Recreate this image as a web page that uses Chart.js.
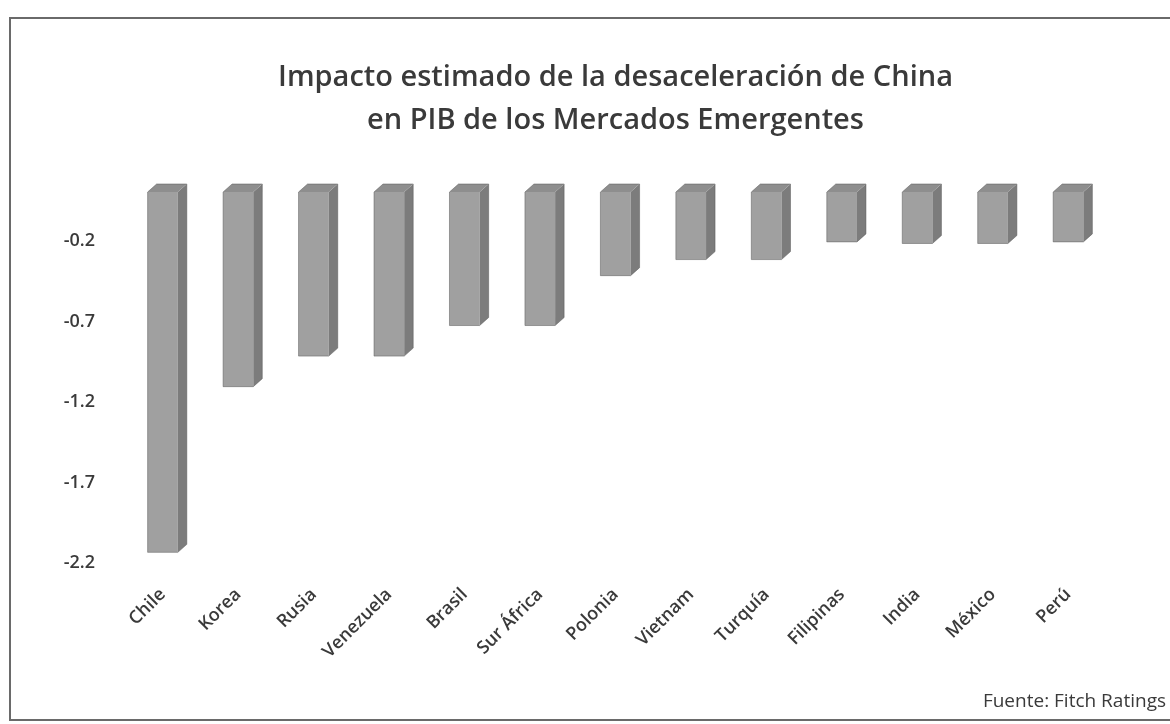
<!DOCTYPE html>
<html><head><meta charset="utf-8">
<script src="https://cdn.jsdelivr.net/npm/chart.js@4/dist/chart.umd.min.js"></script>
<style>html,body{margin:0;padding:0;background:#fff}#wrap{width:1170px;height:724px;position:relative}</style>
</head><body><div id="wrap"><canvas id="c" width="1170" height="724"></canvas></div>
<script>
const categories = ['Chile','Korea','Rusia','Venezuela','Brasil','Sur África','Polonia','Vietnam','Turquía','Filipinas','India','México','Perú'];
const impacto = [-2.24,-1.21,-1.02,-1.02,-0.83,-0.83,-0.52,-0.42,-0.42,-0.31,-0.32,-0.32,-0.31];
const yTicks = [-0.2,-0.7,-1.2,-1.7,-2.2];
const titleLines = ['Impacto estimado de la desaceleración de China','en PIB de los Mercados Emergentes'];
const sourceText = 'Fuente: Fitch Ratings';

const FRONT = '#a0a0a0', SIDE = '#7c7c7c', TOP = '#8e8e8e';
const TEXT = '#3a3a3a';

const bar3d = {
  id: 'bar3d',
  afterDatasetsDraw(chart) {
    const ctx = chart.ctx;
    const dx = 9, dy = 8;
    chart.getDatasetMeta(0).data.forEach(el => {
      const p = el.getProps(['x','y','base','width'], true);
      const l = p.x - p.width/2, r = p.x + p.width/2;
      const t = Math.min(p.y, p.base), b = Math.max(p.y, p.base);
      ctx.save();
      ctx.fillStyle = SIDE;
      ctx.beginPath();
      ctx.moveTo(r, t); ctx.lineTo(r+dx, t-dy); ctx.lineTo(r+dx, b-dy); ctx.lineTo(r, b); ctx.closePath();
      ctx.fill();
      ctx.fillStyle = TOP;
      ctx.beginPath();
      ctx.moveTo(l, t); ctx.lineTo(l+dx, t-dy); ctx.lineTo(r+dx, t-dy); ctx.lineTo(r, t); ctx.closePath();
      ctx.fill();
      ctx.strokeStyle = 'rgba(90,90,90,0.5)';
      ctx.lineWidth = 1;
      ctx.beginPath();
      ctx.moveTo(l, b); ctx.lineTo(l, t); ctx.lineTo(l+dx, t-dy); ctx.lineTo(r+dx, t-dy); ctx.lineTo(r+dx, b-dy); ctx.lineTo(r, b); ctx.closePath();
      ctx.stroke();
      ctx.restore();
    });
  },
  afterDraw(chart) {
    const ctx = chart.ctx;
    ctx.save();
    ctx.strokeStyle = '#6a6a6a';
    ctx.lineWidth = 2;
    ctx.strokeRect(10, 18, 1175, 702);
    ctx.fillStyle = TEXT;
    ctx.font = '19px "Open Sans"';
    ctx.textAlign = 'right';
    ctx.textBaseline = 'alphabetic';
    ctx.fillText(sourceText, 1166, 707);
    ctx.restore();
  }
};

new Chart(document.getElementById('c'), {
  type: 'bar',
  data: {
    labels: categories,
    datasets: [{
      data: impacto,
      backgroundColor: FRONT,
      borderWidth: 0,
      barPercentage: 0.5,
      categoryPercentage: 0.8
    }]
  },
  options: {
    responsive: false,
    animation: false,
    devicePixelRatio: 1,
    layout: { padding: { left: 10, right: 64, top: 0, bottom: 0 } },
    plugins: {
      legend: { display: false },
      tooltip: { enabled: false },
      title: {
        display: true,
        text: titleLines,
        fullSize: false,
        color: TEXT,
        font: { family: '"Open Sans"', size: 29, weight: '600', lineHeight: 1.483 },
        padding: { top: 56, bottom: 50 }
      }
    },
    scales: {
      x: {
        grid: { display: false, drawTicks: false },
        border: { display: false },
        ticks: {
          autoSkip: false, maxRotation: 45, minRotation: 45,
          color: TEXT, font: { family: '"Open Sans"', size: 18, weight: '600' }, padding: 22
        },
        afterFit: s => { s.height = 162; }
      },
      y: {
        min: -2.3, max: 0,
        grid: { display: false, drawTicks: false },
        border: { display: false },
        afterBuildTicks: s => { s.ticks = yTicks.map(v => ({ value: v })); },
        ticks: {
          color: TEXT, font: { family: '"Open Sans"', size: 18, weight: '600' }, padding: 30, labelOffset: 17,
          callback: v => Number(v).toFixed(1)
        },
        afterFit: s => { s.width = 115; }
      }
    }
  },
  plugins: [bar3d]
});
</script></body></html>
